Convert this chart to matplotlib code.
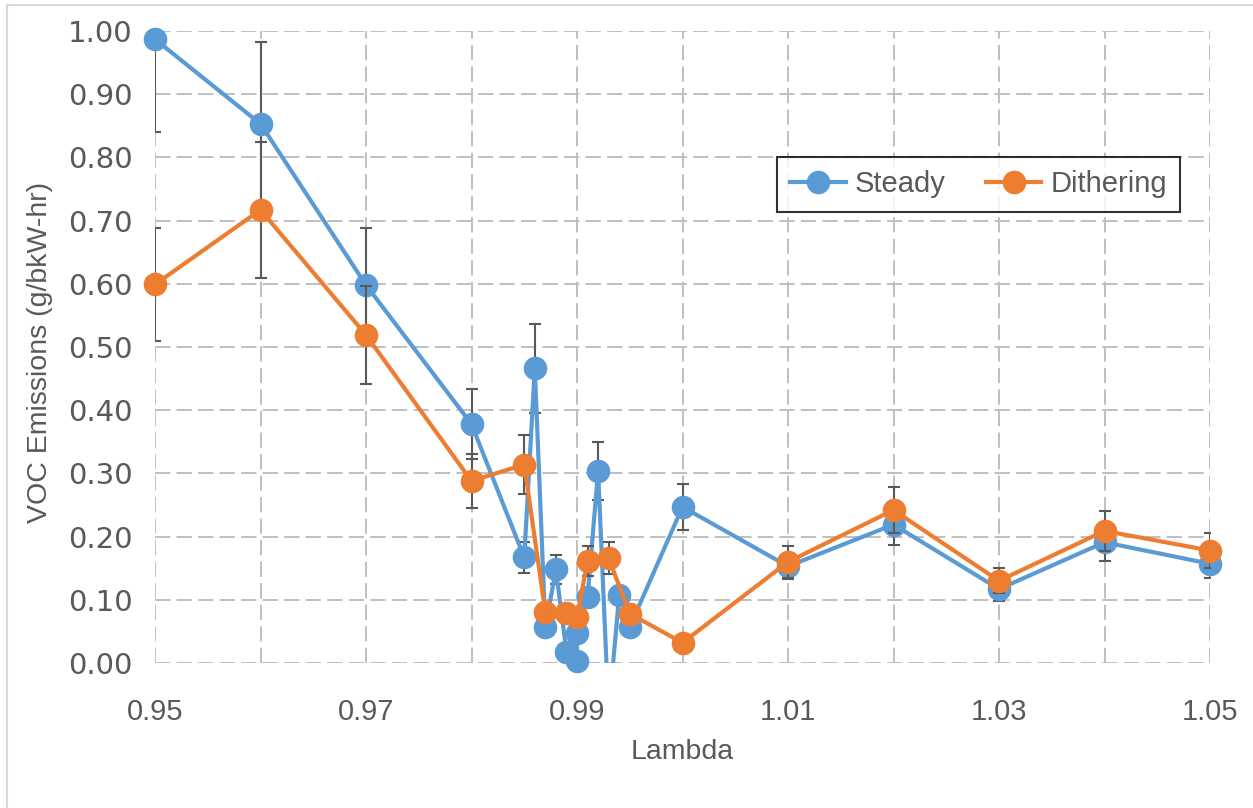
import numpy as np
import matplotlib
matplotlib.use("Agg")
import matplotlib.pyplot as plt
from matplotlib.lines import Line2D

# data
steady_x = [0.95, 0.96, 0.97, 0.98, 0.985, 0.986, 0.987, 0.988, 0.989, 0.990, 0.990,
            0.991, 0.992, 0.993, 0.994, 0.995, 1.000, 1.01, 1.02, 1.03, 1.04, 1.05]
steady_y = [0.987, 0.853, 0.598, 0.378, 0.167, 0.466, 0.057, 0.148, 0.018, 0.003, 0.047,
            0.104, 0.304, -0.08, 0.108, 0.057, 0.247, 0.153, 0.219, 0.117, 0.191, 0.157]
steady_err = [0.147, 0.129, 0.090, 0.056, 0.025, 0.070, 0.010, 0.023, 0.005, 0.005, 0.010,
              0.012, 0.046, 0.010, 0.012, 0.010, 0.037, 0.020, 0.033, 0.019, 0.029, 0.023]

dither_x = [0.95, 0.96, 0.97, 0.98, 0.985, 0.987, 0.989, 0.990, 0.991, 0.993, 0.995,
            1.000, 1.01, 1.02, 1.03, 1.04, 1.05]
dither_y = [0.599, 0.717, 0.519, 0.288, 0.314, 0.080, 0.079, 0.073, 0.161, 0.166, 0.078,
            0.032, 0.160, 0.242, 0.130, 0.209, 0.178]
dither_err = [0.090, 0.108, 0.078, 0.043, 0.047, 0.010, 0.010, 0.010, 0.024, 0.025, 0.010,
              0.008, 0.025, 0.037, 0.020, 0.031, 0.027]

x_ticks = [0.95, 0.97, 0.99, 1.01, 1.03, 1.05]
y_ticks = np.arange(0, 1.01, 0.1)

blue = "#5B9BD5"
orange = "#ED7D31"
grey_txt = "#595959"

W, H = 1253, 808
fig = plt.figure(figsize=(W / 100, H / 100), dpi=100)
ax = fig.add_axes([155 / W, 1 - 663 / H, (1210 - 155) / W, (663 - 31) / H])

ax.set_xlim(0.95, 1.05)
ax.set_ylim(0, 1.0)

# grid, dashed
plt.rcParams['lines.scale_dashes'] = False
for gx in np.arange(0.95, 1.0501, 0.01):
    ax.axvline(gx, color="#BFBFBF", lw=1.4, ls=(0, (11, 4.5)), zorder=0)
for gy in y_ticks:
    ax.axhline(gy, color="#BFBFBF", lw=1.4, ls=(0, (11, 4.5)), zorder=0)
for s in ax.spines.values():
    s.set_visible(False)

series = [(steady_x, steady_y, steady_err, blue, "Steady"),
          (dither_x, dither_y, dither_err, orange, "Dithering")]
z = 2
for xs, ys, es, col, lab in series:
    xs = np.array(xs); ys = np.array(ys)
    ax.errorbar(xs, ys, yerr=es, fmt="none", ecolor="#595959", elinewidth=1.5,
                capsize=4.5, capthick=1.5, zorder=z)
    ax.plot(xs, ys, color=col, lw=3.0, zorder=z + 0.1, solid_joinstyle="round")
    ok = ys >= 0
    ax.plot(xs[ok], ys[ok], ls="none", marker="o", ms=17, color=col,
            markeredgewidth=0, zorder=z + 0.2, clip_on=False)
    z += 1

ax.set_xticks(x_ticks)
ax.set_xticklabels([f"{v:.2f}" for v in x_ticks], fontsize=21,
                   family=["Liberation Sans", "DejaVu Sans"], color=grey_txt)
ax.set_yticks(y_ticks)
ax.set_yticklabels([f"{v:.2f}" for v in y_ticks], fontsize=21,
                   family=["DejaVu Sans"], color=grey_txt)
ax.tick_params(axis="x", length=0, pad=25)
ax.tick_params(axis="y", length=0, pad=16)

fig.text(682 / W, 1 - 752 / H, "Lambda", ha="center", va="center", fontsize=20.5,
         family=["Liberation Sans", "DejaVu Sans"], color=grey_txt)
fig.text(40 / W, 1 - 352 / H, "VOC Emissions (g/bkW-hr)", ha="center", va="center",
         rotation=90, fontsize=20.5, family=["Liberation Sans", "DejaVu Sans"], color=grey_txt)

handles = [Line2D([], [], color=blue, lw=3.0, marker="o", ms=17, markeredgewidth=0),
           Line2D([], [], color=orange, lw=3.0, marker="o", ms=17, markeredgewidth=0)]
leg = fig.legend(handles, ["Steady", "Dithering"], loc="center",
                 bbox_to_anchor=((772 + 1185) / 2 / W, 1 - 184.5 / H), ncol=2,
                 frameon=True, fancybox=False, edgecolor="black",
                 prop={"family": ["Liberation Sans", "DejaVu Sans"], "size": 21},
                 handlelength=1.9, columnspacing=1.4, handletextpad=0.3,
                 borderpad=0.45, borderaxespad=0)
leg.get_frame().set_linewidth(1.5)
for t in leg.get_texts():
    t.set_color(grey_txt)

# outer chart border (top and left only visible)
fig.add_artist(Line2D([6.5 / W, 6.5 / W], [0, 1 - 5 / H], color="#D9D9D9", lw=1.5,
                      transform=fig.transFigure))
fig.add_artist(Line2D([6.5 / W, 1], [1 - 5 / H, 1 - 5 / H], color="#D9D9D9", lw=1.5,
                      transform=fig.transFigure))

fig.savefig("out.png", dpi=100, facecolor="white")
